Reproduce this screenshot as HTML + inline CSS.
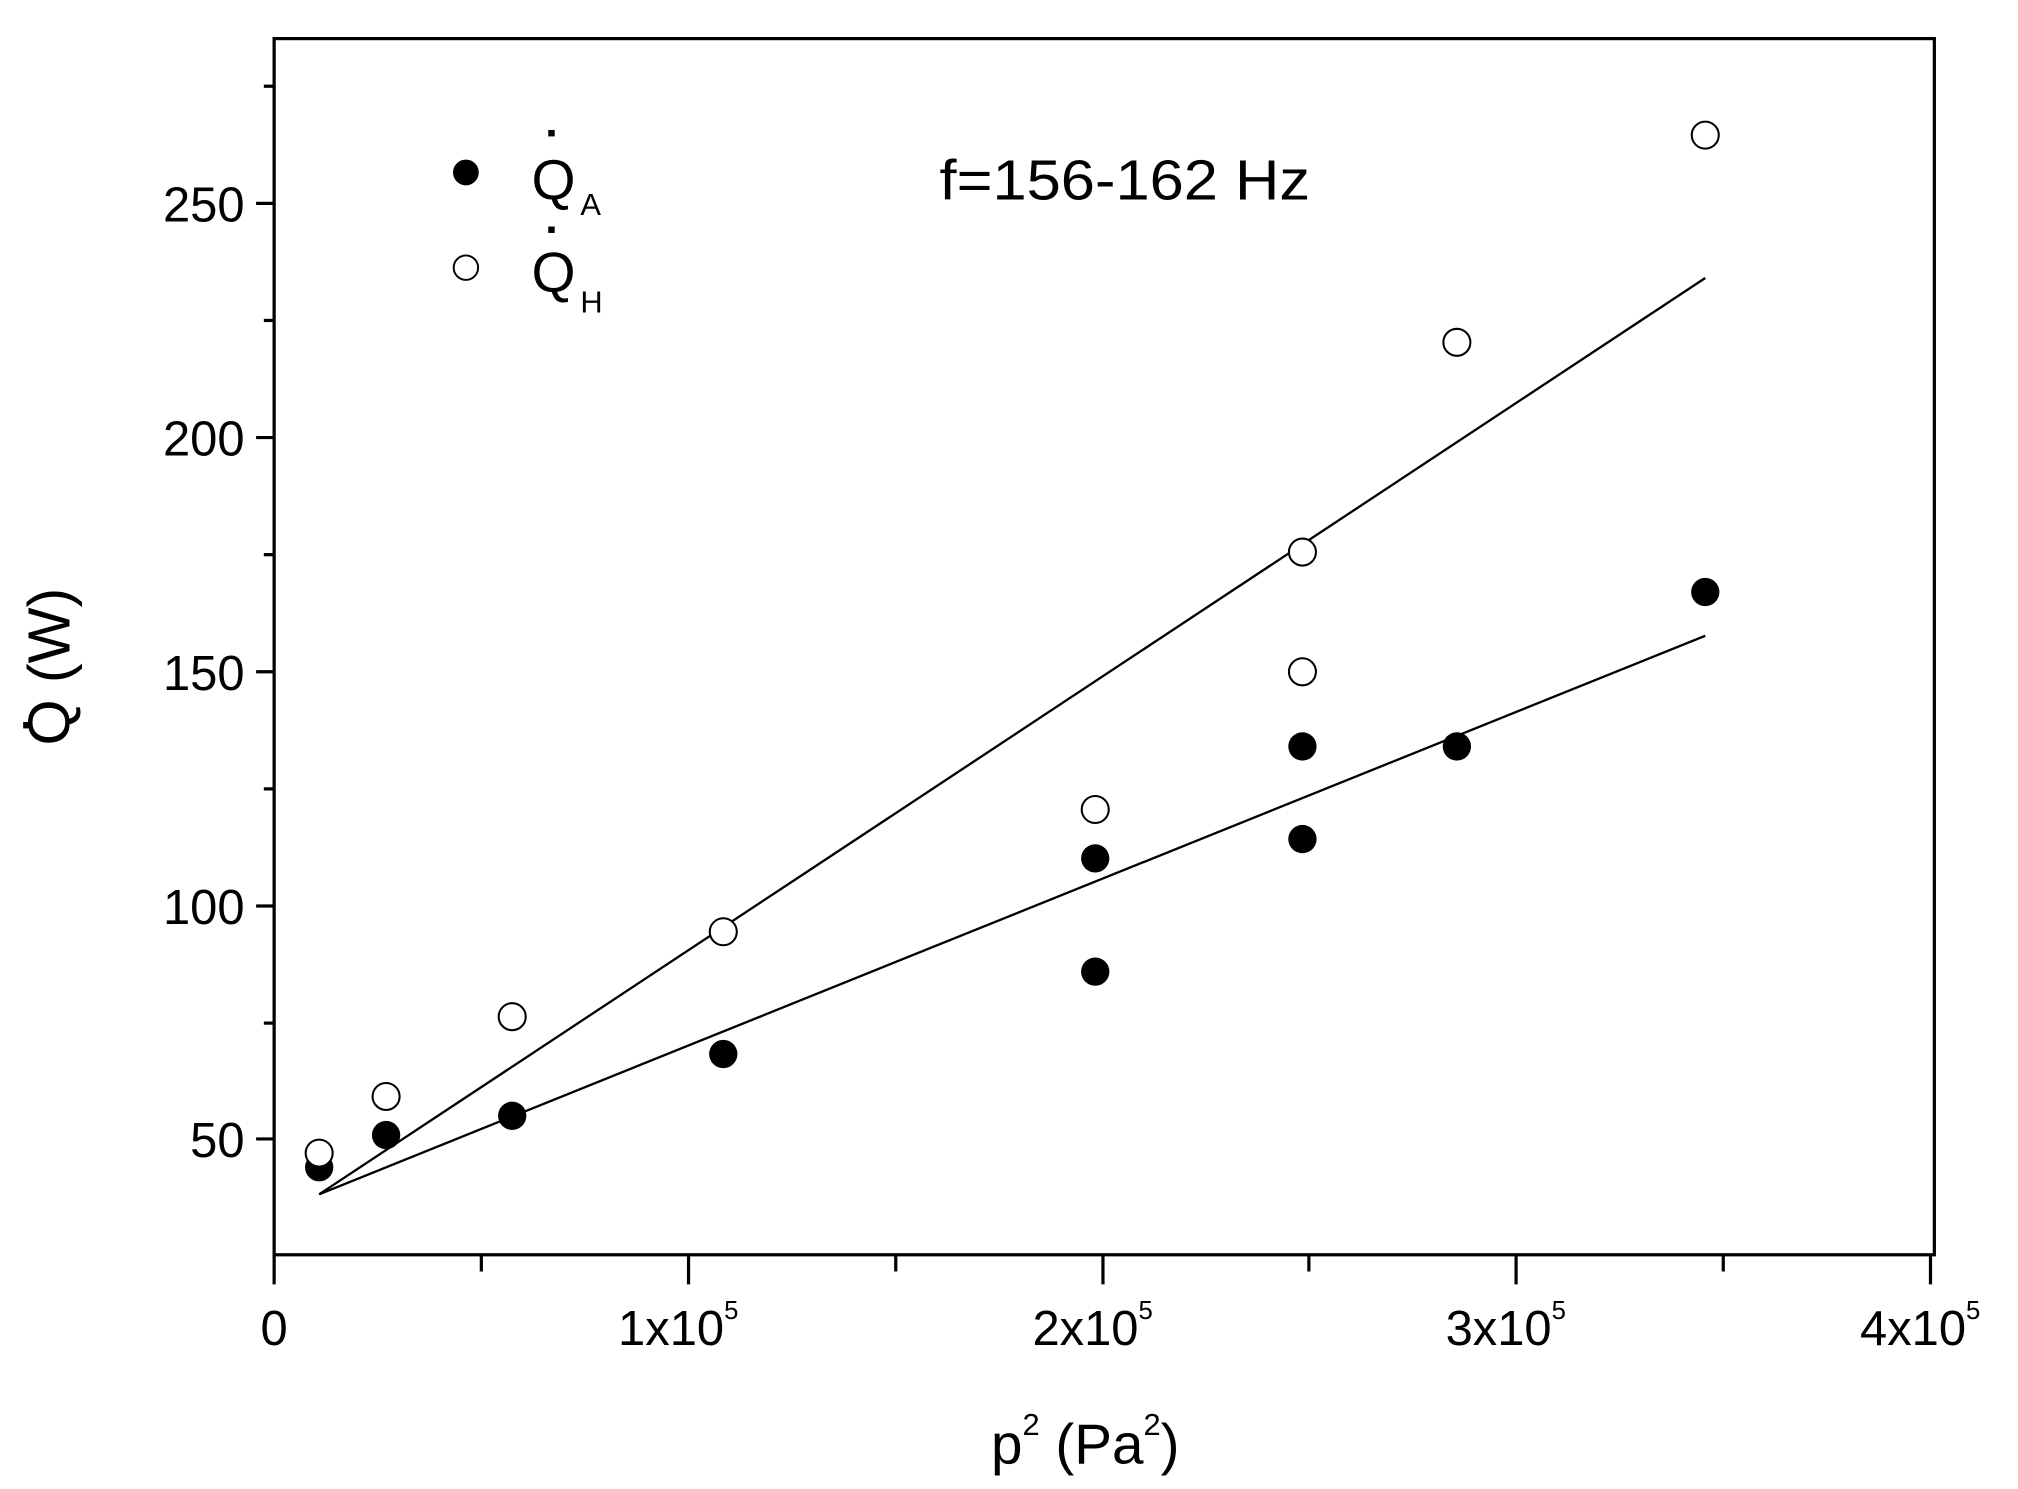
<!DOCTYPE html>
<html><head><meta charset="utf-8"><style>html,body{margin:0;padding:0;background:#fff}svg{display:block}</style></head>
<body>
<svg width="2018" height="1489" viewBox="0 0 1568 1157" preserveAspectRatio="none" xmlns="http://www.w3.org/2000/svg" font-family="Liberation Sans, sans-serif" fill="#000">
<rect x="213" y="30" width="1290" height="945" fill="none" stroke="#000" stroke-width="2.5"/>
<g stroke="#000" stroke-width="2.5">
<line x1="199" y1="158" x2="213" y2="158"/><line x1="199" y1="340" x2="213" y2="340"/><line x1="199" y1="522" x2="213" y2="522"/><line x1="199" y1="704" x2="213" y2="704"/><line x1="199" y1="885" x2="213" y2="885"/>
<line x1="205" y1="67" x2="213" y2="67"/><line x1="205" y1="249" x2="213" y2="249"/><line x1="205" y1="431" x2="213" y2="431"/><line x1="205" y1="613" x2="213" y2="613"/><line x1="205" y1="795" x2="213" y2="795"/>
<line x1="213" y1="975" x2="213" y2="998"/><line x1="535" y1="975" x2="535" y2="998"/><line x1="857" y1="975" x2="857" y2="998"/><line x1="1178" y1="975" x2="1178" y2="998"/><line x1="1500" y1="975" x2="1500" y2="998"/>
<line x1="374" y1="975" x2="374" y2="988"/><line x1="696" y1="975" x2="696" y2="988"/><line x1="1017" y1="975" x2="1017" y2="988"/><line x1="1339" y1="975" x2="1339" y2="988"/>
</g>
<g font-size="38" text-anchor="end">
<text x="190" y="172">250</text><text x="190" y="354">200</text><text x="190" y="536">150</text><text x="190" y="718">100</text><text x="190" y="899">50</text>
</g>
<g font-size="38" text-anchor="middle">
<text x="213" y="1045">0</text>
<text x="527" y="1045">1x10<tspan font-size="20" dy="-20">5</tspan></text>
<text x="849" y="1045">2x10<tspan font-size="20" dy="-20">5</tspan></text>
<text x="1170" y="1045">3x10<tspan font-size="20" dy="-20">5</tspan></text>
<text x="1492" y="1045">4x10<tspan font-size="20" dy="-20">5</tspan></text>
</g>
<text x="770" y="1137" font-size="44">p<tspan font-size="24" dy="-22">2</tspan><tspan dy="22"> (Pa</tspan><tspan font-size="24" dy="-22">2</tspan><tspan dy="22">)</tspan></text>
<g transform="translate(54,518) rotate(-90)"><text x="0" y="0" font-size="46" text-anchor="middle">Q (W)</text><rect x="-48" y="-36" width="5" height="5"/></g>
<text x="730" y="155" font-size="44" textLength="288" lengthAdjust="spacingAndGlyphs">f=156-162 Hz</text>
<circle cx="362" cy="134" r="10"/>
<circle cx="362" cy="208" r="9.5" fill="#fff" stroke="#000" stroke-width="1.5"/>
<text x="413" y="155" font-size="44">Q</text><rect x="426" y="101" width="5" height="5"/><text x="451" y="167" font-size="24">A</text>
<text x="413" y="227" font-size="44">Q</text><rect x="426" y="176" width="5" height="5"/><text x="451" y="243" font-size="24">H</text>
<g stroke="#000" stroke-width="1.8" fill="none">
<line x1="248" y1="928" x2="1325" y2="216"/>
<line x1="248" y1="928" x2="1325" y2="494"/>
</g>
<g>
<circle cx="248" cy="907" r="11"/><circle cx="300" cy="882" r="11"/><circle cx="398" cy="867" r="11"/><circle cx="562" cy="819" r="11"/><circle cx="851" cy="667" r="11"/><circle cx="851" cy="755" r="11"/><circle cx="1012" cy="580" r="11"/><circle cx="1012" cy="652" r="11"/><circle cx="1132" cy="580" r="11"/><circle cx="1325" cy="460" r="11"/>
</g>
<g fill="#fff" stroke="#000" stroke-width="1.6">
<circle cx="248" cy="896" r="10.5"/><circle cx="300" cy="852" r="10.5"/><circle cx="398" cy="790" r="10.5"/><circle cx="562" cy="724" r="10.5"/><circle cx="851" cy="629" r="10.5"/><circle cx="1012" cy="429" r="10.5"/><circle cx="1012" cy="522" r="10.5"/><circle cx="1132" cy="266" r="10.5"/><circle cx="1325" cy="105" r="10.5"/>
</g>
</svg>
</body></html>
